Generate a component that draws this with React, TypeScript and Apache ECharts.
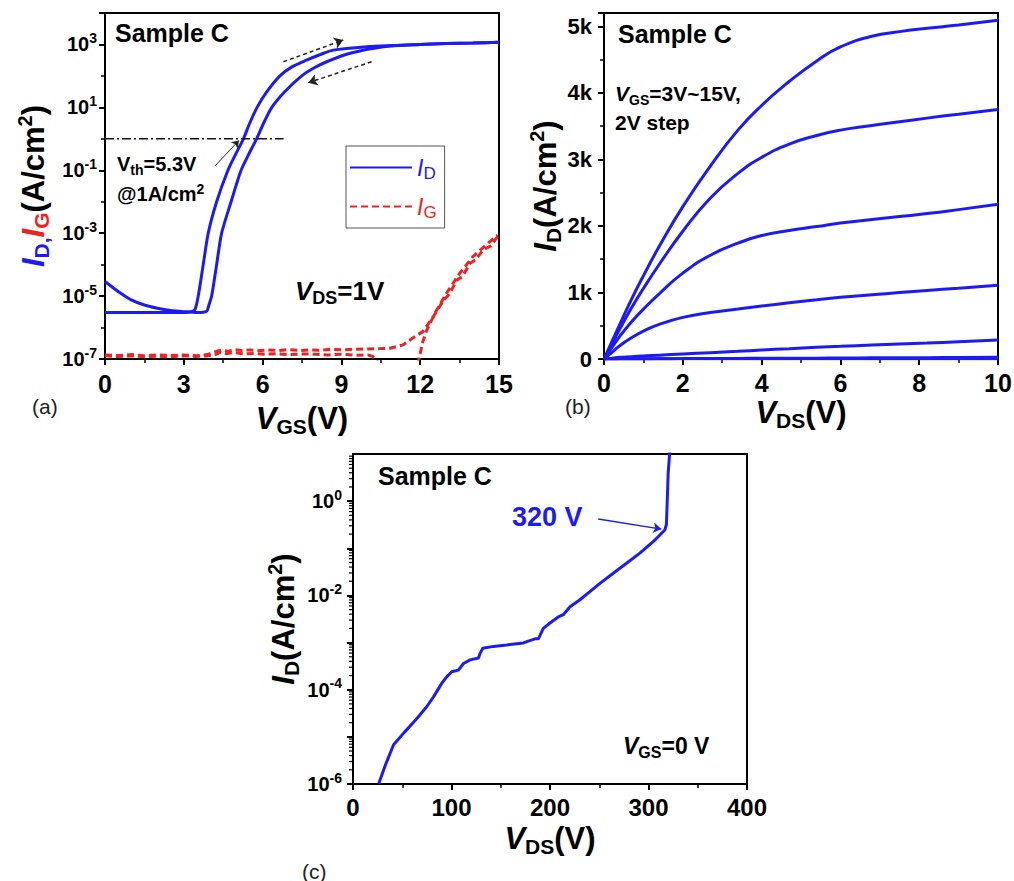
import React, { useEffect, useRef } from 'react';
import * as echarts from 'echarts';

const FONT = '"Liberation Sans", Arial, Helvetica, sans-serif';
const BLUE = '#1c1cf2';
const RED = '#f42020';
const INK = '#000';

// ---------- Panel (a): transfer curves, VDS = 1 V ----------
const vgsSweepUp = [0, 1, 2, 3, 3.3, 3.43, 3.55, 3.74, 3.93, 4.25, 4.68, 4.97, 5.27, 5.52, 5.79, 6.17, 6.66, 7.1, 7.67, 8.2, 8.69, 9.96, 11, 12, 13, 14, 15];
const idSweepUp = [3.0e-6, 3.0e-6, 3.0e-6, 3.0e-6, 3.2e-6, 3.8e-6, 1.0e-5, 1.0e-4, 1.0e-3, 1.0e-2, 0.1, 0.32, 1, 3.3, 10, 32, 100, 190, 316, 480, 660, 850, 930, 1000, 1070, 1120, 1170];

const vgsSweepDown = [0, 0.5, 1, 1.5, 2, 2.5, 3, 3.5, 3.87, 3.95, 4.06, 4.25, 4.44, 4.8, 5.18, 5.47, 5.77, 6.05, 6.35, 6.85, 7.49, 7.95, 8.44, 9.33, 10.6, 12, 13, 14, 15];
const idSweepDown = [2.9e-5, 1.4e-5, 7.6e-6, 5.2e-6, 4.1e-6, 3.5e-6, 3.2e-6, 3.0e-6, 3.3e-6, 5.0e-6, 1.0e-5, 1.0e-4, 1.0e-3, 1.0e-2, 0.1, 0.32, 1, 3.3, 10, 32, 100, 178, 282, 525, 850, 1000, 1070, 1120, 1170];

const vgsGateUp = [0, 0.5, 1, 1.5, 2, 2.5, 3, 3.5, 3.9, 4.1, 4.3, 4.5, 4.7, 4.9, 5.2, 5.5, 5.8, 6.2, 6.6, 7, 7.4, 7.8, 8.2, 8.6, 9, 9.5, 10, 10.5, 10.85, 11.35, 11.7, 12.1, 12.5, 12.9, 13.1, 13.4, 13.6, 13.9, 14.1, 14.4, 14.7, 14.9, 15];
const igUp = [1.35e-7, 1.29e-7, 1.38e-7, 1.26e-7, 1.35e-7, 1.29e-7, 1.35e-7, 1.26e-7, 1.38e-7, 1.58e-7, 1.82e-7, 1.91e-7, 1.74e-7, 2.0e-7, 1.86e-7, 1.95e-7, 1.82e-7, 1.95e-7, 1.86e-7, 2.0e-7, 1.86e-7, 1.95e-7, 1.91e-7, 2.04e-7, 1.95e-7, 2.04e-7, 2.09e-7, 2.14e-7, 2.19e-7, 2.82e-7, 4.57e-7, 7.41e-7, 2.24e-6, 7.59e-6, 1.12e-5, 3.24e-5, 4.17e-5, 1.1e-4, 1.41e-4, 2.95e-4, 3.98e-4, 6.92e-4, 8.71e-4];

const vgsGateDown = [0, 0.5, 1, 1.5, 2, 2.5, 3, 3.5, 3.9, 4.2, 4.4, 4.6, 4.9, 5.3, 5.7, 6.1, 6.5, 7, 7.5, 8, 8.5, 9, 9.5, 10, 10.2, 10.5, 11.9, 12.1, 12.25, 12.63, 13.0, 13.5, 14.0, 14.5, 14.95];
const igDown = [1.26e-7, 1.2e-7, 1.26e-7, 1.17e-7, 1.23e-7, 1.17e-7, 1.26e-7, 1.2e-7, 1.26e-7, 1.38e-7, 1.66e-7, 1.48e-7, 1.62e-7, 1.45e-7, 1.51e-7, 1.41e-7, 1.48e-7, 1.38e-7, 1.45e-7, 1.41e-7, 1.35e-7, 1.41e-7, 1.32e-7, 1.35e-7, 1.2e-7, 6.3e-8, 6.3e-8, 3.55e-7, 8.32e-7, 3.63e-6, 1.23e-5, 5.25e-5, 1.78e-4, 4.17e-4, 8.71e-4];

const vthLevel = 1; // A/cm^2
const vthLineVgs = [0, 6.8];
const vthArrow = [[4.19, 0.138], [5.1, 0.89]];
const sweepArrowUp = [[6.79, 282], [9.07, 1380]];
const sweepArrowDown = [[10.15, 282], [7.74, 61]];

// ---------- Panel (b): output curves, VGS = 3..15 V ----------
const vdsOut = [0, 0.2, 0.4, 0.7, 1, 1.4, 2, 2.7, 3.4, 4, 4.7, 5.4, 6, 6.8, 7.5, 8.2, 9, 10];
const id15 = [0, 260, 520, 900, 1250, 1690, 2290, 2900, 3440, 3810, 4170, 4480, 4690, 4850, 4920, 4970, 5020, 5090];
const id13 = [0, 220, 450, 770, 1060, 1420, 1920, 2420, 2790, 3030, 3230, 3360, 3440, 3510, 3565, 3620, 3680, 3750];
const id11 = [0, 170, 340, 560, 750, 980, 1290, 1560, 1740, 1855, 1930, 1990, 2045, 2095, 2140, 2185, 2245, 2325];
const id9 = [0, 100, 200, 320, 420, 520, 625, 700, 750, 795, 845, 890, 928, 966, 998, 1030, 1065, 1110];
const id7 = [0, 12, 25, 35, 45, 58, 75, 95, 115, 135, 155, 175, 190, 210, 225, 240, 260, 285];
const id5 = [0, 1, 2, 3, 4, 5, 6, 8, 9, 10, 12, 13, 15, 17, 19, 20, 22, 25];
const id3 = [0, 0, 1, 1, 1, 2, 2, 2, 3, 3, 3, 3, 4, 4, 4, 5, 5, 5];
const outCurves = [id15, id13, id11, id9, id7, id5, id3];
const outVgs = [15, 13, 11, 9, 7, 5, 3];

// ---------- Panel (c): off-state breakdown, VGS = 0 V ----------
const vdsBd = [26, 32.8, 41.2, 51.4, 64.9, 75, 81.8, 90.2, 95.3, 100.3, 107, 112.2, 118.9, 127.4, 129, 131.8, 142.6, 156, 173, 176.4, 184.8, 188.2, 193.2, 200, 208.4, 213.5, 220.3, 230.4, 240.5, 250.7, 264.2, 277.7, 291.2, 304.7, 316.6, 318.2, 320, 321.6];
const idBd = [1.0e-6, 2.5e-6, 6.8e-6, 1.2e-5, 2.45e-5, 4.4e-5, 7.1e-5, 1.38e-4, 1.9e-4, 2.4e-4, 2.6e-4, 3.6e-4, 4.3e-4, 4.7e-4, 5.9e-4, 7.6e-4, 8.3e-4, 8.9e-4, 9.8e-4, 1.05e-3, 1.2e-3, 1.2e-3, 2.0e-3, 2.6e-3, 3.5e-3, 3.9e-3, 5.75e-3, 8.1e-3, 1.2e-2, 1.8e-2, 2.95e-2, 4.8e-2, 7.9e-2, 0.138, 0.245, 0.32, 4.0, 11.2];
const bdArrow = [[249, 0.42], [313, 0.255]];

// ---------- helpers ----------
const lg = (v: number) => Math.log10(v);
const logPairs = (xs: number[], ys: number[]) => xs.map((x, i) => [x, lg(ys[i])]);
const linPairs = (xs: number[], ys: number[]) => xs.map((x, i) => [x, ys[i]]);
const arrowLine = (pts: number[][], isLog: boolean) => [
  { coord: [pts[0][0], isLog ? lg(pts[0][1]) : pts[0][1]] },
  { coord: [pts[1][0], isLog ? lg(pts[1][1]) : pts[1][1]] },
];

const tickLabelBase = { color: INK, fontFamily: FONT, fontWeight: 'bold' as const };

const supRich = {
  b: { ...tickLabelBase, fontSize: 20, lineHeight: 22 },
  sup: { ...tickLabelBase, fontSize: 14, lineHeight: 14, padding: [0, 0, 13, 0] },
};

const titleRich = (c1 = INK, c2 = INK) => ({
  v: { color: c1, fontFamily: FONT, fontWeight: 'bold', fontStyle: 'italic', fontSize: 31, lineHeight: 34 },
  s: { color: c1, fontFamily: FONT, fontWeight: 'bold', fontSize: 21, lineHeight: 21, padding: [17, 0, 0, 0] },
  v2: { color: c2, fontFamily: FONT, fontWeight: 'bold', fontStyle: 'italic', fontSize: 31, lineHeight: 34 },
  s2: { color: c2, fontFamily: FONT, fontWeight: 'bold', fontSize: 21, lineHeight: 21, padding: [17, 0, 0, 0] },
  n: { color: INK, fontFamily: FONT, fontWeight: 'bold', fontSize: 31, lineHeight: 34 },
  p: { color: INK, fontFamily: FONT, fontWeight: 'bold', fontSize: 20, lineHeight: 20, padding: [0, 0, 17, 0] },
});

const axisCommon = (gridIndex: number) => ({
  type: 'value' as const,
  gridIndex,
  axisLine: { show: true, onZero: false, lineStyle: { color: INK, width: 2 } },
  axisTick: { show: true, inside: false, length: 6, lineStyle: { color: INK, width: 2 } },
  splitLine: { show: false },
  minorSplitLine: { show: false },
  nameLocation: 'middle' as const,
  nameMoveOverlap: false,
});

const minor = { show: true, splitNumber: 2, length: 4, lineStyle: { color: INK, width: 1.5 } };

const supFormatter = (v: number) => `{b|10}{sup|${Math.round(v)}}`;

// log minor ticks for panel (c)
const bdMinorTicks: number[] = [];
for (let n = -6; n < 1; n++) for (let k = 2; k <= 9; k++) bdMinorTicks.push(n + Math.log10(k));

type Rich = Record<string, any>;
const annRich = (size: number, sub: number, fill = INK): Rich => ({
  n: { fontFamily: FONT, fontWeight: 'bold', fontSize: size, lineHeight: size + 2, fill },
  i: { fontFamily: FONT, fontWeight: 'bold', fontStyle: 'italic', fontSize: size, lineHeight: size + 2, fill },
  s: { fontFamily: FONT, fontWeight: 'bold', fontSize: sub, lineHeight: sub, padding: [Math.round(size * 0.55), 0, 0, 0], fill },
  p: { fontFamily: FONT, fontWeight: 'bold', fontSize: sub, lineHeight: sub, padding: [0, 0, Math.round(size * 0.55), 0], fill },
});

const txt = (x: number, y: number, text: string, rich: Rich, extra: Rich = {}) => ({
  type: 'text',
  x,
  y,
  silent: true,
  style: { text, rich, verticalAlign: 'middle', align: 'left', ...extra },
});

const plainTxt = (x: number, y: number, text: string, size: number, weight: string, fill = INK) => ({
  type: 'text',
  x,
  y,
  silent: true,
  style: { text, fontFamily: FONT, fontSize: size, fontWeight: weight, fill, verticalAlign: 'middle', align: 'left' },
});

function buildOption(): any {
  const gridBase = { show: true, borderColor: INK, borderWidth: 2, backgroundColor: 'transparent', outerBoundsMode: 'none', containLabel: false };

  const lineBase = { type: 'line', symbol: 'none', showSymbol: false, silent: true, animation: false, clip: true };

  const markLineBase = (color: string, width: number, type: any, size: number, data: any[]) => ({
    silent: true,
    symbol: ['none', 'arrow'],
    symbolSize: size,
    label: { show: false },
    lineStyle: { color, width, type },
    emphasis: { disabled: true },
    animation: false,
    data,
  });

  const series: any[] = [
    // Panel (a)
    {
      ...lineBase, name: 'ID', xAxisIndex: 0, yAxisIndex: 0,
      data: logPairs(vgsSweepUp, idSweepUp), smooth: 0.25,
      lineStyle: { color: BLUE, width: 3 }, itemStyle: { color: BLUE },
    },
    {
      ...lineBase, name: 'ID', xAxisIndex: 0, yAxisIndex: 0,
      data: logPairs(vgsSweepDown, idSweepDown), smooth: 0.25,
      lineStyle: { color: BLUE, width: 3 }, itemStyle: { color: BLUE },
    },
    {
      ...lineBase, name: 'IG', xAxisIndex: 0, yAxisIndex: 0,
      data: logPairs(vgsGateUp, igUp),
      lineStyle: { color: RED, width: 3, type: [7, 4] }, itemStyle: { color: RED },
    },
    {
      ...lineBase, name: 'IG', xAxisIndex: 0, yAxisIndex: 0,
      data: logPairs(vgsGateDown, igDown),
      lineStyle: { color: RED, width: 3, type: [7, 4] }, itemStyle: { color: RED },
    },
    {
      ...lineBase, name: 'Vth level', xAxisIndex: 0, yAxisIndex: 0,
      data: vthLineVgs.map((v) => [v, lg(vthLevel)]),
      lineStyle: { color: '#111', width: 1.4, type: [9, 3, 2, 3] },
      markLine: {
        ...markLineBase('#222', 1, 'solid', 7, [arrowLine(vthArrow, true)]),
      },
    },
    {
      type: 'line', name: 'sweep', xAxisIndex: 0, yAxisIndex: 0, data: [], silent: true,
      markLine: markLineBase('#222', 1.5, [4, 3], 9, [arrowLine(sweepArrowUp, true), arrowLine(sweepArrowDown, true)]),
    },
    // Panel (b)
    ...outCurves.map((c, k) => ({
      ...lineBase, name: `VGS=${outVgs[k]}V`, xAxisIndex: 1, yAxisIndex: 1,
      data: linPairs(vdsOut, c), smooth: 0.5,
      lineStyle: { color: BLUE, width: 3 }, itemStyle: { color: BLUE },
    })),
    // Panel (c)
    {
      ...lineBase, name: 'breakdown', xAxisIndex: 2, yAxisIndex: 2,
      data: logPairs(vdsBd, idBd),
      lineStyle: { color: BLUE, width: 3 }, itemStyle: { color: BLUE },
      markLine: markLineBase(BLUE, 1.5, 'solid', 8, [arrowLine(bdArrow, true)]),
    },
    {
      type: 'custom', name: 'minorTicksC', xAxisIndex: 2, yAxisIndex: 2, silent: true, clip: false,
      data: bdMinorTicks.map((v) => [0, v]),
      renderItem: (_params: any, api: any) => {
        const p = api.coord([api.value(0), api.value(1)]);
        return {
          type: 'line',
          shape: { x1: p[0] - 4, y1: p[1], x2: p[0] - 1, y2: p[1] },
          style: { stroke: INK, lineWidth: 1.2 },
        };
      },
    },
  ];

  return {
    animation: false,
    backgroundColor: '#fff',
    textStyle: { fontFamily: FONT },
    grid: [
      { ...gridBase, left: 105, top: 13, width: 394, height: 346 },
      { ...gridBase, left: 604, top: 13, width: 394, height: 346 },
      { ...gridBase, left: 353, top: 454, width: 394, height: 330 },
    ],
    xAxis: [
      {
        ...axisCommon(0), min: 0, max: 15, interval: 3, minorTick: minor,
        axisLabel: { ...tickLabelBase, fontSize: 25, margin: 12 },
        name: '{v|V}{s|GS}{n|(V)}', nameGap: 42, nameTextStyle: { rich: titleRich() },
      },
      {
        ...axisCommon(1), min: 0, max: 10, interval: 2, minorTick: minor,
        axisLabel: { ...tickLabelBase, fontSize: 25, margin: 11 },
        name: '{v|V}{s|DS}{n|(V)}', nameGap: 36, nameTextStyle: { rich: titleRich() },
      },
      {
        ...axisCommon(2), min: 0, max: 400, interval: 100, minorTick: minor,
        axisLabel: { ...tickLabelBase, fontSize: 24, margin: 11 },
        name: '{v|V}{s|DS}{n|(V)}', nameGap: 37, nameTextStyle: { rich: titleRich() },
      },
    ],
    yAxis: [
      {
        ...axisCommon(0), min: -7, max: 4, interval: 2, minorTick: minor,
        axisLabel: { margin: 8, formatter: supFormatter, rich: supRich, showMaxLabel: false },
        name: '{v|I}{s|D}{s|,}{v2|I}{s2|G}{n|(A/cm}{p|2}{n|)}', nameRotate: 90, nameGap: 55,
        nameTextStyle: { rich: titleRich(BLUE, RED) },
      },
      {
        ...axisCommon(1), min: 0, max: 5200, interval: 1000, minorTick: minor,
        axisLabel: { ...tickLabelBase, fontSize: 22, margin: 12, showMaxLabel: false, formatter: (v: number) => (v === 0 ? '0' : `${v / 1000}k`) },
        name: '{v|I}{s|D}{n|(A/cm}{p|2}{n|)}', nameRotate: 90, nameGap: 42,
        nameTextStyle: { rich: titleRich() },
      },
      {
        ...axisCommon(2), min: -6, max: 1, interval: 1,
        axisLabel: {
          margin: 11, rich: supRich, showMaxLabel: false,
          formatter: (v: number) => (Math.round(v) % 2 === 0 ? supFormatter(v) : ''),
        },
        name: '{v|I}{s|D}{n|(A/cm}{p|2}{n|)}', nameRotate: 90, nameGap: 53,
        nameTextStyle: { rich: titleRich() },
      },
    ],
    legend: {
      left: 346, top: 146, orient: 'vertical', selectedMode: false,
      itemWidth: 62, itemHeight: 14, itemGap: 10, padding: [7, 8, 7, 3],
      borderColor: '#555', borderWidth: 1, backgroundColor: '#fff',
      itemStyle: { opacity: 0, borderWidth: 0 },
      data: ['ID', 'IG'],
      formatter: (name: string) => (name === 'ID' ? '{i|I}{s|D}' : '{j|I}{t|G}'),
      textStyle: {
        rich: {
          i: { fontFamily: FONT, fontStyle: 'italic', fontSize: 23, lineHeight: 26, color: BLUE },
          s: { fontFamily: FONT, fontSize: 17, lineHeight: 17, padding: [12, 0, 0, 0], color: BLUE },
          j: { fontFamily: FONT, fontStyle: 'italic', fontSize: 23, lineHeight: 26, color: RED },
          t: { fontFamily: FONT, fontSize: 17, lineHeight: 17, padding: [12, 0, 0, 0], color: RED },
        },
      },
    },
    graphic: [
      // panel (a)
      plainTxt(115, 32.5, 'Sample C', 25, 'bold'),
      txt(117, 164, '{n|V}{s|th}{n|=5.3V}', annRich(20, 14)),
      txt(117, 194, '{n|@1A/cm}{p|2}', annRich(20, 14)),
      txt(295, 291, '{i|V}{s|DS}{n|=1V}', annRich(26, 18)),
      plainTxt(32, 406, '(a)', 21, 'normal', '#222'),
      // panel (b)
      plainTxt(618, 33.5, 'Sample C', 25, 'bold'),
      txt(615, 93.5, '{i|V}{s|GS}{n|=3V~15V,}', annRich(21, 14)),
      plainTxt(615, 122.5, '2V step', 21, 'bold'),
      plainTxt(565, 406, '(b)', 21, 'normal', '#222'),
      // panel (c)
      plainTxt(378, 475.5, 'Sample C', 25, 'bold'),
      plainTxt(512, 517, '320 V', 27, 'bold', BLUE),
      txt(623, 745.5, '{i|V}{s|GS}{n|=0 V}', annRich(23, 16)),
      plainTxt(302, 871, '(c)', 21, 'normal', '#222'),
    ],
    series,
  };
}

export default function App() {
  const ref = useRef<HTMLDivElement>(null);
  useEffect(() => {
    if (!ref.current) return;
    const chart = echarts.init(ref.current, null, { renderer: 'svg' });
    chart.setOption(buildOption());
    return () => chart.dispose();
  }, []);
  return (
    <div
      ref={ref}
      style={{ position: 'absolute', left: 0, top: 0, width: 1014, height: 881, background: '#fff' }}
    />
  );
}
